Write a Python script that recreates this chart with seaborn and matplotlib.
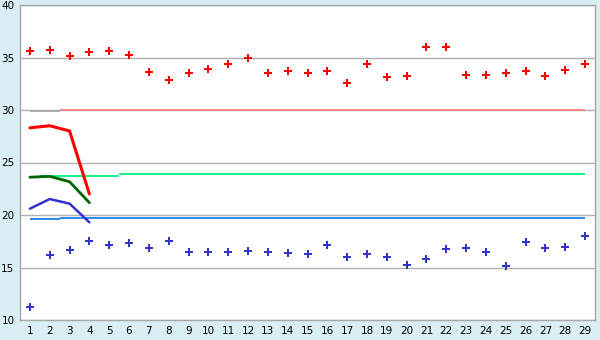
import numpy as np
import pandas as pd
import matplotlib
matplotlib.use("Agg")
import matplotlib.pyplot as plt
import seaborn as sns

# ---- data ----
days = list(range(1, 30))
red_points = [35.6, 35.7, 35.1, 35.5, 35.6, 35.2, 33.6, 32.9, 33.5, 33.9,
              34.4, 35.0, 33.5, 33.7, 33.5, 33.7, 32.6, 34.35, 33.1, 33.2,
              36.0, 36.0, 33.3, 33.3, 33.5, 33.7, 33.2, 33.8, 34.4]
blue_points = [11.2, 16.2, 16.7, 17.5, 17.1, 17.3, 16.9, 17.5, 16.45, 16.45,
               16.45, 16.6, 16.45, 16.35, 16.25, 17.1, 15.97, 16.25, 15.97, 15.2,
               15.8, 16.8, 16.9, 16.45, 15.1, 17.4, 16.9, 17.0, 18.0]

line_x = [1, 2, 3, 4]
red_line = [28.3, 28.5, 28.0, 22.0]
green_line = [23.6, 23.68, 23.17, 21.17]
blue_line = [20.6, 21.52, 21.08, 19.3]

# step (mean) segments: start, end, value
red_seg_start = [1, 2.5]
red_seg_end = [2.5, 29]
red_seg_val = [29.9, 30.0]
green_seg_start = [1, 1.5, 5.5, 13.5, 21.5]
green_seg_end = [1.5, 5.5, 13.5, 21.5, 29]
green_seg_val = [23.6, 23.75, 23.87, 23.95, 23.87]
blue_seg_start = [1, 2.5]
blue_seg_end = [2.5, 29]
blue_seg_val = [19.6, 19.7]

y_ticks = [10, 15, 20, 25, 30, 35, 40]

# ---- plot ----
sns.set_style("white")
plt.rcParams['font.family'] = ['DejaVu Sans']
bg = '#d9eef5'
fig = plt.figure(figsize=(6, 3.4), dpi=100, facecolor=bg)
ax = fig.add_axes([20/600, 20/340, 575/600, 315/340])
ax.set_facecolor('white')

for y in y_ticks:
    ax.axhline(y, color='#b0b0b0', lw=1, zorder=0)

ax.hlines(red_seg_val, red_seg_start, red_seg_end,
          colors=['#a8a8a8', '#ff8080'], lw=1.3, zorder=1)
ax.hlines(green_seg_val, green_seg_start, green_seg_end,
          colors='#00f080', lw=1.3, zorder=1)
ax.hlines(blue_seg_val, blue_seg_start, blue_seg_end,
          colors='#1a80f0', lw=1.3, zorder=1)

df_lines = pd.DataFrame({'x': line_x, 'red': red_line, 'green': green_line, 'blue': blue_line})
sns.lineplot(data=df_lines, x='x', y='red', color='#ff0000', lw=2.2, ax=ax, zorder=3)
sns.lineplot(data=df_lines, x='x', y='green', color='#006600', lw=2.0, ax=ax, zorder=3)
sns.lineplot(data=df_lines, x='x', y='blue', color='#3333cc', lw=1.8, ax=ax, zorder=3)

df_pts = pd.DataFrame({'day': days, 'red': red_points, 'blue': blue_points})
sns.scatterplot(data=df_pts, x='day', y='red', marker='P', color='#ff0000',
                s=30, linewidth=0, ax=ax, zorder=4)
sns.scatterplot(data=df_pts, x='day', y='blue', marker='P', color='#3333cc',
                s=30, linewidth=0, ax=ax, zorder=4)

ax.set_xlim(0.5, 29.5)
ax.set_ylim(10, 40)
ax.set_xticks(days)
ax.set_xticklabels([str(d) for d in days])
ax.set_yticks(y_ticks)
ax.set_xlabel('')
ax.set_ylabel('')
for s in ax.spines.values():
    s.set_color('#a8a8a8')
    s.set_linewidth(1)
ax.tick_params(axis='both', which='both', length=3, width=1, color='#404040',
               labelsize=7.5, labelcolor='#000000', pad=1, direction='out')
ax.tick_params(axis='x', pad=1.5)

fig.savefig('out.png', dpi=100, facecolor=bg)
